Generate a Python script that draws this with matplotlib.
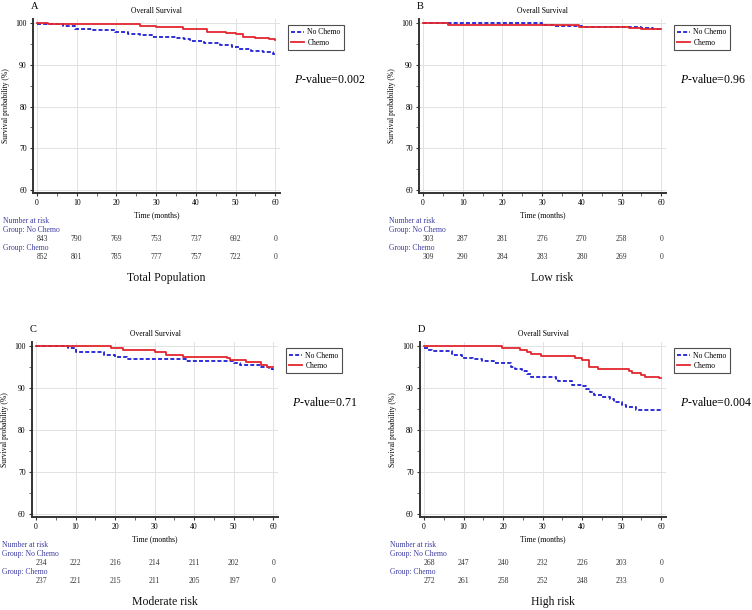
import matplotlib.pyplot as plt
import matplotlib.transforms as mtransforms

plt.rcParams['font.family'] = ['Liberation Serif', 'DejaVu Serif']
plt.rcParams['mathtext.fontset'] = 'custom'
plt.rcParams['mathtext.it'] = 'Liberation Serif:italic'
plt.rcParams['mathtext.rm'] = 'Liberation Serif'

# --- Kaplan-Meier step data (time in months, survival %) ---
# Panel A: Total population
a_nc_t = [0, 6.6, 9.5, 14, 19.6, 23, 26, 29, 35, 37, 38.5, 42, 46, 49, 51, 54, 57, 59.5, 60]
a_nc_s = [99.8, 99.3, 98.6, 98.3, 97.8, 97.5, 97.2, 96.7, 96.5, 96.2, 95.7, 95.2, 94.7, 94.2, 93.8, 93.3, 93.0, 92.7, 92.6]
a_c_t = [0, 2.9, 19.2, 25.9, 30, 36.8, 42.7, 47.7, 50, 51.9, 55, 58.5, 60]
a_c_s = [100, 99.8, 99.7, 99.4, 99.1, 98.6, 97.9, 97.7, 97.3, 96.8, 96.5, 96.1, 96.0]

# Panel B: Low risk
b_nc_t = [0, 30, 33, 40, 52, 53, 55, 58, 60]
b_nc_s = [100, 99.6, 99.3, 99.2, 99.2, 99.0, 98.8, 98.5, 98.5]
b_c_t = [0, 6.3, 30, 39.3, 52, 55, 60]
b_c_s = [100, 99.6, 99.5, 99.2, 98.9, 98.5, 98.5]

# Panel C: Moderate risk
c_nc_t = [0, 8, 10.1, 17.1, 19.9, 23, 38, 50.1, 51.5, 56, 57, 59, 60]
c_nc_s = [100, 99.6, 98.6, 98.0, 97.4, 96.9, 96.4, 96.0, 95.5, 95.5, 95.0, 94.5, 94.3]
c_c_t = [0, 19, 22, 30, 33, 37.2, 48.2, 49, 53, 57, 58.5, 60]
c_c_s = [100, 99.5, 99.0, 98.5, 98.0, 97.5, 97.1, 96.6, 96.2, 95.6, 95.1, 95.1]

# Panel D: High risk
d_nc_t = [0, 1, 2, 7, 9.7, 12.5, 14.7, 17.7, 21.9, 23, 24.9, 26, 27, 33.3, 34, 37.5, 40, 41, 42,
          43, 45, 47, 48, 50, 51, 53.5, 56, 60]
d_nc_s = [99.6, 99.2, 98.9, 98.0, 97.3, 96.9, 96.5, 96.1, 95.0, 94.6, 94.2, 93.4, 92.6, 92.2, 91.7,
          90.8, 90.4, 89.8, 89.2, 88.4, 87.8, 87.4, 86.6, 86.0, 85.5, 84.8, 84.8, 84.8]
d_c_t = [0, 19.8, 24.4, 26, 27, 29.5, 38.3, 40, 41.7, 44, 51.8, 52.5, 55, 56, 59.5, 60]
d_c_s = [100, 99.6, 99.2, 98.7, 98.2, 97.7, 97.3, 96.7, 95.0, 94.6, 94.2, 93.7, 93.2, 92.7, 92.4, 92.4]

risk_times = [0, 10, 20, 30, 40, 50, 60]
a_risk_nc = [843, 790, 769, 753, 737, 692, 0]
a_risk_c = [852, 801, 785, 777, 757, 722, 0]
b_risk_nc = [303, 287, 281, 276, 270, 258, 0]
b_risk_c = [309, 290, 284, 283, 280, 269, 0]
c_risk_nc = [234, 222, 216, 214, 211, 202, 0]
c_risk_c = [237, 221, 215, 211, 205, 197, 0]
d_risk_nc = [268, 247, 240, 232, 226, 203, 0]
d_risk_c = [272, 261, 258, 252, 248, 233, 0]

letters = ['A', 'B', 'C', 'D']
subtitles = ['Total Population', 'Low risk', 'Moderate risk', 'High risk']
p_values = ['0.002', '0.96', '0.71', '0.004']

W, H = 752, 610
fig = plt.figure(figsize=(W / 100, H / 100), dpi=100)

# axes boxes in pixels: left, right, top, bottom
boxes = [(33, 280, 19, 193), (419, 666, 19, 193), (32, 278, 342, 517), (420, 666, 342, 517)]

curves = [(a_nc_t, a_nc_s, a_c_t, a_c_s), (b_nc_t, b_nc_s, b_c_t, b_c_s),
          (c_nc_t, c_nc_s, c_c_t, c_c_s), (d_nc_t, d_nc_s, d_c_t, d_c_s)]
risks = [(a_risk_nc, a_risk_c), (b_risk_nc, b_risk_c), (c_risk_nc, c_risk_c), (d_risk_nc, d_risk_c)]

blue = '#1f1fd6'
red = '#e3262e'
label_col = '#3c3ca0'
fs = 5.5

for i in range(4):
    l, r, t, b = boxes[i]
    ax = fig.add_axes([l / W, 1 - b / H, (r - l) / W, (b - t) / H])
    nc_t, nc_s, c_t, c_s = curves[i]
    ax.step(nc_t, nc_s, where='post', color=blue, lw=1.3, ls=(0, (2.2, 1.2)), label='No Chemo', zorder=3)
    ax.step(c_t, c_s, where='post', color=red, lw=1.3, label='Chemo', zorder=3)

    ax.set_xlim(-1, 61.2)
    ax.set_ylim(59.3, 101)
    ax.set_xticks(range(0, 61, 10))
    ax.set_xticks(range(5, 60, 10), minor=True)
    ax.set_yticks([60, 70, 80, 90, 100])
    ax.set_yticks([65, 75, 85, 95], minor=True)
    ax.grid(True, which='major', color='#e2e2e2', lw=0.7)
    ax.set_axisbelow(True)
    for s in ['top', 'right']:
        ax.spines[s].set_visible(False)
    for s in ['left', 'bottom']:
        ax.spines[s].set_linewidth(1.4)
        ax.spines[s].set_color('#333333')
    ax.tick_params(which='major', labelsize=fs, length=2.5, width=0.8, direction='out',
                   color='#333333', pad=2)
    ax.tick_params(which='minor', length=2, width=0.6, direction='out', color='#555555')
    ax.set_title('Overall Survival', fontsize=fs, pad=4)
    ax.set_ylabel('Survival probability (%)', fontsize=fs, labelpad=4)
    ax.set_xlabel('Time (months)', fontsize=fs, labelpad=3)

    leg = ax.legend(loc='upper left', bbox_to_anchor=(1.015, 0.985), fontsize=fs, frameon=True,
                    fancybox=False, edgecolor='#222222', handlelength=1.7, borderpad=0.4,
                    labelspacing=0.3, handletextpad=0.5)
    leg.get_frame().set_linewidth(0.8)

    ax.text(1.055, 0.655, '$P$-value=' + p_values[i], transform=ax.transAxes, fontsize=8.6,
            va='center', ha='left')

    fig.text((l - 2) / W, 1 - (t - 8) / H, letters[i], fontsize=7.5, ha='left', va='bottom')

    # number-at-risk table
    trans = mtransforms.blended_transform_factory(ax.transData, fig.transFigure)
    def fy(off):
        return 1 - (b + off) / H
    ax.text(-8.6, fy(28), 'Number at risk', transform=trans, fontsize=fs, color=label_col,
            va='center', ha='left', clip_on=False)
    ax.text(-8.6, fy(37), 'Group: No Chemo', transform=trans, fontsize=fs, color=label_col,
            va='center', ha='left', clip_on=False)
    ax.text(-8.6, fy(55), 'Group: Chemo', transform=trans, fontsize=fs, color=label_col,
            va='center', ha='left', clip_on=False)
    nc_r, c_r = risks[i]
    for k, tm in enumerate(risk_times):
        xx = tm + 1.4 if tm == 0 else tm
        ax.text(xx, fy(46), str(nc_r[k]), transform=trans, fontsize=fs, color='#333333',
                va='center', ha='center', clip_on=False)
        ax.text(xx, fy(64), str(c_r[k]), transform=trans, fontsize=fs, color='#333333',
                va='center', ha='center', clip_on=False)
    ax.text(32.5, fy(85), subtitles[i], transform=trans, fontsize=8.5, color='#111111',
            va='center', ha='center', clip_on=False)

fig.savefig('out.png', dpi=100)
